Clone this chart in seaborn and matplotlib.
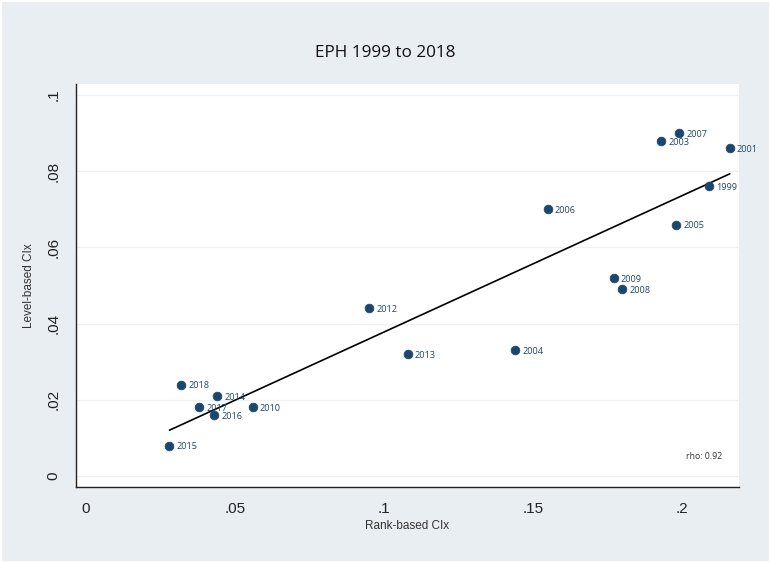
import numpy as np
import pandas as pd
import matplotlib
matplotlib.use("Agg")
import matplotlib.pyplot as plt
import seaborn as sns
from matplotlib.patches import Rectangle

# === DATI ===
anni = ["1999", "2001", "2003", "2004", "2005", "2006", "2007", "2008", "2009",
        "2010", "2012", "2013", "2014", "2015", "2016", "2017", "2018"]
rank_cix = [0.209, 0.216, 0.193, 0.144, 0.198, 0.155, 0.199, 0.180, 0.177,
            0.056, 0.095, 0.108, 0.044, 0.028, 0.043, 0.038, 0.032]
level_cix = [0.076, 0.086, 0.088, 0.033, 0.066, 0.070, 0.090, 0.049, 0.052,
             0.018, 0.044, 0.032, 0.021, 0.008, 0.016, 0.018, 0.024]
x_ticks = [0, 0.05, 0.1, 0.15, 0.2]
x_labels = ["0", ".05", ".1", ".15", ".2"]
y_ticks = [0, 0.02, 0.04, 0.06, 0.08, 0.1]
y_labels = ["0", ".02", ".04", ".06", ".08", ".1"]
rho_testo = "rho: 0.92"

df = pd.DataFrame({"anno": anni, "rank": rank_cix, "level": level_cix})

sfondo = "#E8EEF1"
navy = "#1A476F"

sns.set_style("white")
plt.rcParams["font.family"] = ["Liberation Sans", "DejaVu Sans"]

fig = plt.figure(figsize=(7.71, 5.63), dpi=100)
fig.patch.set_facecolor("white")
# cornice bianca sottile attorno alla regione del grafico
fig.patches.append(Rectangle((2 / 771, 2 / 563), 767 / 771, 559 / 563,
                             transform=fig.transFigure, facecolor=sfondo,
                             edgecolor="none", zorder=-10))
ax = fig.add_axes([0.0982, 0.135, 0.8603, 0.7158])
ax.set_facecolor("white")

# griglia orizzontale
for yt in y_ticks:
    ax.axhline(yt, color="#EDF2F5", lw=1.0, zorder=0)

sns.regplot(x="rank", y="level", data=df, scatter=False, ci=None, ax=ax,
            line_kws={"color": "black", "lw": 1.2, "zorder": 2})
sns.scatterplot(x="rank", y="level", data=df, ax=ax, color=navy, s=40,
                edgecolor=navy, linewidth=0.5, zorder=3)

for _, r in df.iterrows():
    ax.annotate(r["anno"], (r["rank"], r["level"]), xytext=(5, -1),
                textcoords="offset points", va="center", ha="left",
                fontsize=6.6, color=navy, family=["Open Sans", "DejaVu Sans"])

ax.text(0.975, 0.075, rho_testo, transform=ax.transAxes, ha="right", va="center",
        fontsize=6.3, color="#333333", family=["Open Sans", "DejaVu Sans"])

ax.set_xlim(-0.00346, 0.2191)
ax.set_ylim(-0.00289, 0.10289)
ax.set_xticks(x_ticks)
ax.set_xticklabels(x_labels, fontsize=11)
ax.set_yticks(y_ticks)
ax.set_yticklabels(y_labels, fontsize=11, rotation=90, va="center")
ax.tick_params(axis="both", direction="out", length=5, width=0.8, color="#222222",
               labelcolor="#222222", pad=6)

for lato in ["top", "right"]:
    ax.spines[lato].set_visible(False)
for lato in ["left", "bottom"]:
    ax.spines[lato].set_color("#222222")
    ax.spines[lato].set_linewidth(1.0)

ax.set_xlabel("Rank-based CIx", fontsize=8.5, color="#333333", labelpad=3)
ax.set_ylabel("Level-based CIx", fontsize=8.5, color="#333333", labelpad=8)

fig.text(0.5, 0.905, "EPH 1999 to 2018", ha="center", va="center", fontsize=12.3,
         color="#111111", family=["Open Sans", "DejaVu Sans"])

plt.savefig("out.png", dpi=100, facecolor="white")
plt.close()
